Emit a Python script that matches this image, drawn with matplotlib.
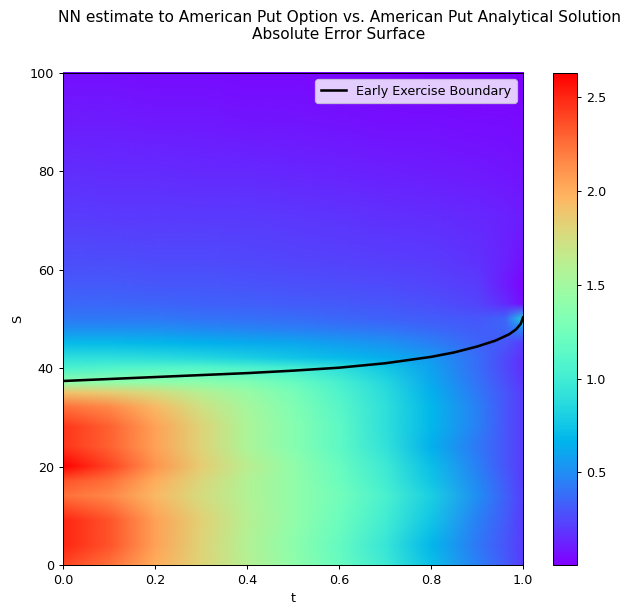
import numpy as np
import matplotlib
matplotlib.use("Agg")
import matplotlib.pyplot as plt
from matplotlib.image import NonUniformImage

# grid (t columns, S rows)
t_grid = [0.0, 0.1, 0.2, 0.3, 0.4, 0.5, 0.6, 0.7, 0.8, 0.9, 0.96, 1.0]
S_grid = [0, 4, 9, 14, 17, 20, 24, 28, 32, 35, 37, 40, 42, 45, 48, 50,
          53, 57, 62, 70, 80, 90, 100]

# absolute error, one row per S value
err = [
    [2.40, 2.25, 2.00, 1.80, 1.60, 1.40, 1.20, 0.98, 0.72, 0.45, 0.32, 0.20],
    [2.50, 2.35, 2.05, 1.80, 1.58, 1.38, 1.18, 0.95, 0.68, 0.42, 0.30, 0.20],
    [2.50, 2.35, 2.05, 1.82, 1.60, 1.42, 1.22, 1.00, 0.75, 0.45, 0.32, 0.20],
    [2.25, 2.15, 1.95, 1.75, 1.58, 1.42, 1.25, 1.05, 0.80, 0.50, 0.34, 0.22],
    [2.35, 2.25, 2.00, 1.78, 1.58, 1.42, 1.22, 1.00, 0.75, 0.48, 0.32, 0.20],
    [2.62, 2.40, 2.10, 1.85, 1.62, 1.42, 1.20, 0.98, 0.72, 0.45, 0.30, 0.20],
    [2.45, 2.30, 2.05, 1.80, 1.55, 1.35, 1.15, 0.92, 0.65, 0.42, 0.30, 0.20],
    [2.45, 2.30, 2.05, 1.80, 1.55, 1.35, 1.15, 0.90, 0.68, 0.45, 0.30, 0.20],
    [2.25, 2.15, 1.95, 1.72, 1.52, 1.32, 1.12, 0.90, 0.68, 0.45, 0.30, 0.20],
    [1.90, 1.85, 1.75, 1.60, 1.45, 1.28, 1.08, 0.88, 0.65, 0.42, 0.30, 0.20],
    [1.42, 1.42, 1.42, 1.38, 1.32, 1.20, 1.04, 0.85, 0.62, 0.40, 0.28, 0.18],
    [1.05, 1.08, 1.10, 1.10, 1.06, 1.00, 0.90, 0.76, 0.58, 0.38, 0.26, 0.16],
    [0.90, 0.90, 0.88, 0.85, 0.80, 0.75, 0.70, 0.64, 0.55, 0.38, 0.26, 0.16],
    [0.70, 0.70, 0.68, 0.66, 0.63, 0.60, 0.56, 0.52, 0.45, 0.35, 0.30, 0.20],
    [0.50, 0.50, 0.50, 0.48, 0.46, 0.44, 0.42, 0.40, 0.36, 0.32, 0.35, 0.50],
    [0.42, 0.42, 0.42, 0.40, 0.39, 0.38, 0.36, 0.34, 0.32, 0.30, 0.35, 0.80],
    [0.36, 0.36, 0.35, 0.34, 0.33, 0.32, 0.31, 0.30, 0.28, 0.24, 0.15, 0.05],
    [0.31, 0.31, 0.30, 0.30, 0.29, 0.28, 0.27, 0.26, 0.24, 0.20, 0.10, 0.02],
    [0.27, 0.27, 0.26, 0.26, 0.25, 0.24, 0.23, 0.22, 0.20, 0.17, 0.12, 0.06],
    [0.22, 0.21, 0.21, 0.20, 0.20, 0.19, 0.18, 0.17, 0.16, 0.14, 0.12, 0.10],
    [0.16, 0.15, 0.15, 0.14, 0.14, 0.13, 0.12, 0.11, 0.10, 0.09, 0.08, 0.07],
    [0.10, 0.10, 0.09, 0.09, 0.08, 0.08, 0.07, 0.06, 0.06, 0.05, 0.05, 0.04],
    [0.06, 0.06, 0.05, 0.05, 0.04, 0.04, 0.03, 0.03, 0.02, 0.02, 0.02, 0.01],
]
err_max = 2.63

# early exercise boundary
t_bnd = [0.0, 0.1, 0.2, 0.3, 0.4, 0.5, 0.6, 0.7, 0.8, 0.85, 0.9, 0.94,
         0.97, 0.985, 0.995, 1.0]
S_bnd = [37.4, 37.8, 38.2, 38.6, 39.0, 39.5, 40.1, 41.0, 42.3, 43.2, 44.4,
         45.6, 46.9, 47.9, 49.0, 50.3]

DPI = 92
W, H = 626, 606
fig = plt.figure(figsize=(W/DPI, H/DPI), dpi=DPI)
ax = fig.add_axes([63/W, 41/H, 460/W, 492/H])
cax = fig.add_axes([553/W, 41/H, 24/W, 492/H])

im = NonUniformImage(ax, interpolation='bilinear', extent=(0, 1, 0, 100), cmap='rainbow')
im.set_data(np.array(t_grid), np.array(S_grid), np.array(err))
im.set_clim(0.005, err_max)
ax.add_image(im)
ax.plot(t_bnd, S_bnd, color='black', lw=2, label='Early Exercise Boundary')
ax.set_xlim(0, 1)
ax.set_ylim(0, 100)
ax.set_xlabel('t')
ax.set_ylabel('S')
ax.legend(loc='upper right')
fig.colorbar(im, cax=cax)

fig.text(339/W, 1 - 26/H, 'NN estimate to American Put Option vs. American Put Analytical Solution\nAbsolute Error Surface',
         ha='center', va='center', fontsize=12)

fig.savefig('out.png', dpi=DPI)
